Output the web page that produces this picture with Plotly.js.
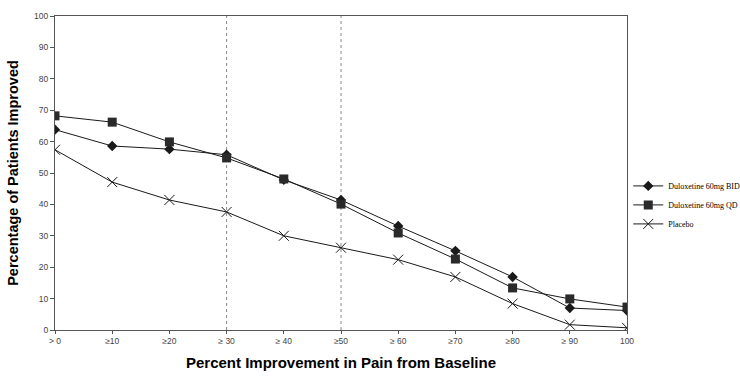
<!DOCTYPE html>
<html><head><meta charset="utf-8">
<script src="https://cdn.plot.ly/plotly-3.0.1.min.js"></script>
<style>html,body{margin:0;padding:0;background:#fff}#c{width:740px;height:376px}</style>
</head><body><div id="c"></div>
<script>
const categories = ['> 0','≥10','≥20','≥ 30','≥ 40','≥50','≥ 60','≥70','≥80','≥ 90','100'];
const bid = [63.8, 58.6, 57.6, 55.8, 47.8, 41.4, 33.1, 25.2, 16.9, 7.0, 6.2];
const qd = [68.2, 66.2, 59.9, 54.8, 48.1, 40.1, 30.9, 22.6, 13.4, 9.9, 7.3];
const placebo = [57.4, 47.1, 41.4, 37.6, 30.0, 26.2, 22.4, 16.9, 8.4, 1.7, 0.7];
const seriesNames = ['Duloxetine 60mg BID','Duloxetine 60mg QD','Placebo'];
const refLines = ['≥ 30','≥50'];
const yTicks = [0,10,20,30,40,50,60,70,80,90,100];

const lineStyle = {color:'#1a1a1a', width:1};
const traces = [
  {x:categories, y:bid, name:seriesNames[0], mode:'lines+markers', line:lineStyle,
   marker:{symbol:'diamond', size:8, color:'#1a1a1a'}},
  {x:categories, y:qd, name:seriesNames[1], mode:'lines+markers', line:lineStyle,
   marker:{symbol:'square', size:9, color:'#2a2a2a'}},
  {x:categories, y:placebo, name:seriesNames[2], mode:'lines+markers', line:lineStyle,
   marker:{symbol:'x-thin', size:10, color:'#1a1a1a', line:{width:1, color:'#1a1a1a'}}}
];
const layout = {
  width:740, height:376,
  margin:{l:55, r:113, t:16, b:46},
  paper_bgcolor:'#fff', plot_bgcolor:'#fff',
  showlegend:true,
  legend:{xref:'container', yref:'container', x:0.849, y:0.455, xanchor:'left', yanchor:'middle',
    bgcolor:'rgba(0,0,0,0)',
    font:{family:'Liberation Serif, Times New Roman, serif', size:8, color:'#000'},
    itemwidth:30, tracegroupgap:0},
  xaxis:{type:'category', range:[0,10], showgrid:false, zeroline:false,
    showline:true, linecolor:'#555', linewidth:1, mirror:true,
    ticks:'outside', ticklen:3, tickcolor:'#555',
    tickfont:{family:'Liberation Sans, Arial, sans-serif', size:8.5, color:'#444'},
    title:{text:'<b>Percent Improvement in Pain from Baseline</b>', standoff:12,
      font:{family:'Liberation Sans, Arial, sans-serif', size:15, color:'#000'}}},
  yaxis:{range:[0,100], tickvals:yTicks, showgrid:false, zeroline:false,
    showline:true, linecolor:'#555', linewidth:1, mirror:true,
    ticks:'outside', ticklen:4, tickcolor:'#555',
    tickfont:{family:'Liberation Sans, Arial, sans-serif', size:8.5, color:'#444'},
    title:{text:'<b>Percentage of Patients Improved</b>', standoff:12,
      font:{family:'Liberation Sans, Arial, sans-serif', size:14.5, color:'#000'}}},
  shapes: refLines.map(c => ({type:'line', xref:'x', yref:'paper', x0:c, x1:c, y0:0, y1:1,
    line:{color:'#888', width:1, dash:'dot'}, layer:'below'}))
};
Plotly.newPlot('c', traces, layout, {displayModeBar:false, staticPlot:true});
</script></body></html>
